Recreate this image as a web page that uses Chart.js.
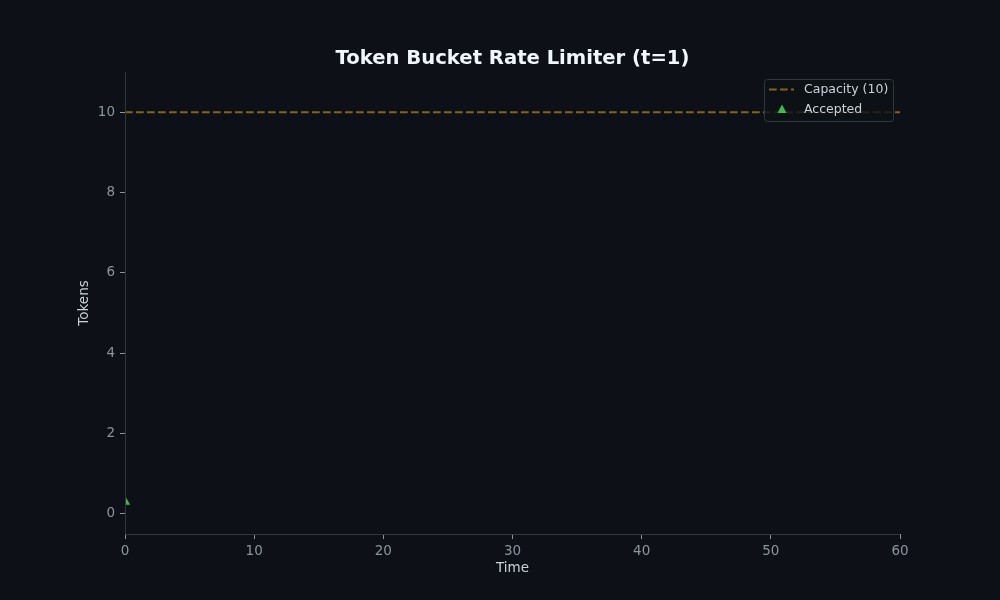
<!DOCTYPE html>
<html>
<head>
<meta charset="utf-8">
<script src="https://cdn.jsdelivr.net/npm/chart.js@4"></script>
<style>
html,body{margin:0;padding:0;background:#0d1117;}
#wrap{width:1000px;height:600px;position:relative;}
</style>
</head>
<body>
<div id="wrap"><canvas id="c" width="1000" height="600"></canvas></div>
<script>
// Data
const capacity = 10;
const capacityX = [0, 60];
const acceptedX = [0];
const acceptedY = [0.3];
const xTicks = [0, 10, 20, 30, 40, 50, 60];
const yTicks = [0, 2, 4, 6, 8, 10];
const titleText = 'Token Bucket Rate Limiter (t=1)';
const labels = ['Capacity (10)', 'Accepted'];

const BG = '#0d1117';
const TICK = '#8b949e';
const LABEL = '#c9d1d9';
const SPINE = '#30363d';
const TICKMARK = '#8b949e';
const CAP_COLOR = '#83631e';
const ACC_COLOR = '#3fb950';
const FONT = "'DejaVu Sans', sans-serif";

const bgPlugin = {
  id: 'bg',
  beforeDraw(chart) {
    const ctx = chart.ctx;
    ctx.save();
    ctx.fillStyle = BG;
    ctx.fillRect(0, 0, chart.width, chart.height);
    ctx.restore();
  }
};

const titlePlugin = {
  id: 'mtitle',
  afterDraw(chart) {
    const ctx = chart.ctx;
    ctx.save();
    ctx.fillStyle = '#f0f6fc';
    ctx.font = 'bold 19.6px ' + FONT;
    ctx.textAlign = 'center';
    ctx.textBaseline = 'middle';
    ctx.fillText(titleText, (chart.chartArea.left + chart.chartArea.right) / 2, 58.5);
    ctx.restore();
  }
};

const spinePlugin = {
  id: 'spines',
  afterDatasetsDraw(chart) {
    const {left, bottom, top, right} = chart.chartArea;
    const ctx = chart.ctx;
    ctx.save();
    ctx.strokeStyle = SPINE;
    ctx.lineWidth = 1;
    ctx.beginPath();
    ctx.moveTo(left + 0.5, top);
    ctx.lineTo(left + 0.5, bottom + 0.5);
    ctx.lineTo(right, bottom + 0.5);
    ctx.stroke();
    ctx.restore();
  }
};

function roundRect(ctx, x, y, w, h, r) {
  ctx.beginPath();
  ctx.moveTo(x + r, y);
  ctx.lineTo(x + w - r, y);
  ctx.quadraticCurveTo(x + w, y, x + w, y + r);
  ctx.lineTo(x + w, y + h - r);
  ctx.quadraticCurveTo(x + w, y + h, x + w - r, y + h);
  ctx.lineTo(x + r, y + h);
  ctx.quadraticCurveTo(x, y + h, x, y + h - r);
  ctx.lineTo(x, y + r);
  ctx.quadraticCurveTo(x, y, x + r, y);
  ctx.closePath();
}

const legendPlugin = {
  id: 'mlegend',
  afterDraw(chart) {
    const ctx = chart.ctx;
    const x = 764.5, y = 79.5, w = 129, h = 42;
    ctx.save();
    ctx.fillStyle = 'rgba(13,17,23,0.8)';
    roundRect(ctx, x, y, w, h, 3);
    ctx.fill();
    ctx.strokeStyle = SPINE;
    ctx.lineWidth = 1;
    ctx.stroke();
    // capacity sample
    ctx.strokeStyle = CAP_COLOR;
    ctx.lineWidth = 2;
    ctx.setLineDash([7.7, 3.3]);
    ctx.beginPath();
    ctx.moveTo(769, 89.5);
    ctx.lineTo(794, 89.5);
    ctx.stroke();
    ctx.setLineDash([]);
    // accepted marker
    ctx.fillStyle = ACC_COLOR;
    ctx.beginPath();
    ctx.moveTo(782, 104.5);
    ctx.lineTo(786.5, 113);
    ctx.lineTo(777.5, 113);
    ctx.closePath();
    ctx.fill();
    ctx.fillStyle = LABEL;
    ctx.font = '12.5px ' + FONT;
    ctx.textAlign = 'left';
    ctx.textBaseline = 'middle';
    ctx.fillText(chart.data.datasets[0].label, 804, 90);
    ctx.fillText(chart.data.datasets[1].label, 804, 110);
    ctx.restore();
  }
};

new Chart(document.getElementById('c'), {
  type: 'scatter',
  data: {
    datasets: [
      {
        label: labels[0],
        type: 'line',
        data: capacityX.map(x => ({x: x, y: capacity})),
        borderColor: CAP_COLOR,
        borderWidth: 2,
        borderDash: [7.7, 3.3],
        pointRadius: 0,
        fill: false,
        clip: false
      },
      {
        label: labels[1],
        data: acceptedX.map((x, i) => ({x: x, y: acceptedY[i]})),
        pointStyle: 'triangle',
        pointRadius: 6,
        backgroundColor: ACC_COLOR,
        borderColor: ACC_COLOR,
        borderWidth: 0,
        clip: 0
      }
    ]
  },
  options: {
    responsive: false,
    animation: false,
    layout: {padding: {left: 0, right: 100, top: 72, bottom: 0}},
    plugins: {legend: {display: false}, title: {display: false}, tooltip: {enabled: false}},
    scales: {
      x: {
        type: 'linear',
        min: 0, max: 60,
        afterBuildTicks: s => { s.ticks = xTicks.map(v => ({value: v})); },
        afterFit: s => { s.height = 66; },
        border: {display: false},
        grid: {drawOnChartArea: false, color: TICKMARK, tickLength: 5, tickColor: TICKMARK},
        ticks: {color: TICK, font: {family: FONT, size: 13.5}, padding: 4, maxRotation: 0},
        title: {display: true, text: 'Time', color: LABEL, font: {family: FONT, size: 13.5}, padding: {top: 0, bottom: 23}}
      },
      y: {
        type: 'linear',
        min: -0.5, max: 11,
        afterBuildTicks: s => { s.ticks = yTicks.map(v => ({value: v})); },
        afterFit: s => { s.width = 125; },
        border: {display: false},
        grid: {drawOnChartArea: false, color: TICKMARK, tickLength: 5, tickColor: TICKMARK},
        ticks: {color: TICK, font: {family: FONT, size: 13.5}, padding: 5},
        title: {display: true, text: 'Tokens', color: LABEL, font: {family: FONT, size: 13.5}, padding: {top: 76, bottom: 0}}
      }
    }
  },
  plugins: [bgPlugin, spinePlugin, titlePlugin, legendPlugin]
});
</script>
</body>
</html>
